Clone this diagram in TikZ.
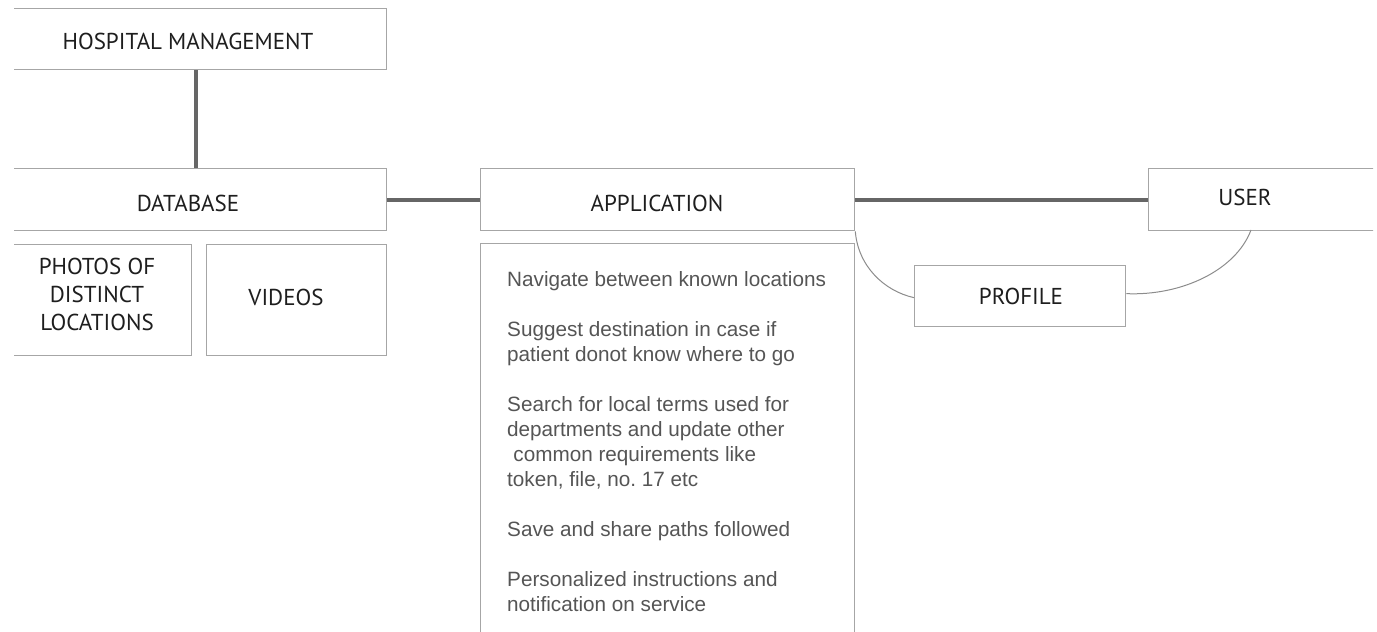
\documentclass[tikz,border=0pt]{standalone}
\usepackage{fontspec}
\setmainfont{PT Sans}
\newfontfamily\listfont{Liberation Sans}
\begin{document}
\begin{tikzpicture}[x=1pt,y=-1pt,
  box/.style={draw=boxgray,line width=1.3pt,fill=white,inner sep=0pt,anchor=north west},
  lbl/.style={text=labelgray,inner sep=0pt,font=\fontsize{23}{28}\selectfont,align=center},
  conn/.style={draw=conngray,line width=4pt},
  arcline/.style={draw=arcgray,line width=1pt}]
\definecolor{boxgray}{HTML}{A6A6A6}
\definecolor{conngray}{HTML}{666666}
\definecolor{arcgray}{HTML}{8C8C8C}
\definecolor{labelgray}{HTML}{1E1E1E}
\definecolor{listgray}{HTML}{555555}
\useasboundingbox (0,0) rectangle (1377,632);
\begin{scope}
\clip (14,0) rectangle (1373,632);
% boxes
\node[box,minimum width=396pt,minimum height=61pt] (hm) at (-10,8) {};
\node[box,minimum width=396pt,minimum height=62pt] (db) at (-10,168) {};
\node[box,minimum width=188pt,minimum height=111pt] (photos) at (3,244) {};
\node[box,minimum width=180pt,minimum height=111pt] (videos) at (206,244) {};
\node[box,minimum width=374pt,minimum height=62pt] (app) at (480,168) {};
\node[box,minimum width=374pt,minimum height=460pt] (feat) at (480,243) {};
\node[box,minimum width=260pt,minimum height=62pt] (user) at (1148,168) {};
\node[box,minimum width=211pt,minimum height=61pt] (profile) at (914,265) {};
\coordinate (userfoot) at (1251,230);
% connectors
\draw[conn] ([xshift=7pt]hm.south) -- ([xshift=7pt]db.north);
\draw[conn] (db.east) -- (app.west);
\draw[conn] (app.east) -- (app.east -| user.west);
\draw[arcline] (app.south east) .. controls (858,266) and (884,291) .. ([yshift=-1.5pt]profile.west);
\draw[arcline] ([yshift=2.5pt]profile.east) .. controls (1182,296) and (1236,270) .. (userfoot);
\end{scope}
% labels
\node[lbl] (hmT) at (188,41) {HOSPITAL MANAGEMENT};
\node[lbl] (dbT) at (188,203.5) {DATABASE};
\node[lbl] (photosT) at (97,294.5) {PHOTOS OF\\DISTINCT\\LOCATIONS};
\node[lbl] (videosT) at (286,297) {VIDEOS};
\node[lbl] (appT) at (657,203) {APPLICATION};
\node[lbl] (userT) at (1245,197.5) {USER};
\node[lbl] (profileT) at (1021,296.5) {PROFILE};
% feature list
\node[anchor=north west,inner sep=0pt,align=left,text=listgray,
      font=\listfont\fontsize{20.7}{25}\selectfont] (featT) at (507,271)
{Navigate between known locations\\[25pt]
Suggest destination in case if\\
patient donot know where to go\\[25pt]
Search for local terms used for\\
departments and update other\\
\hspace{0.3em}common requirements like\\
token, file, no.\ 17 etc\\[25pt]
Save and share paths followed\\[25pt]
Personalized instructions and\\
notification on service};
\end{tikzpicture}
\end{document}
